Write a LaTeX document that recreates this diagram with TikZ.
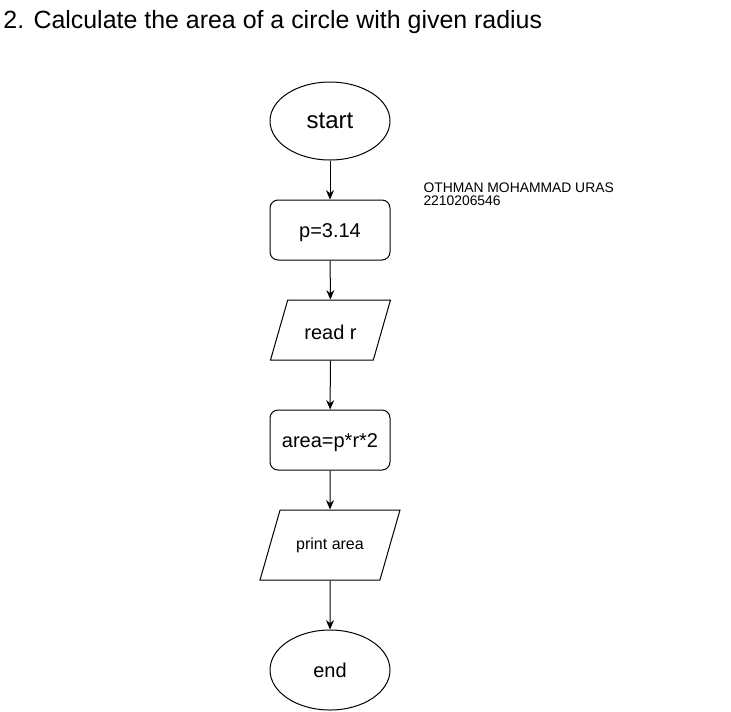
\documentclass[tikz,border=0pt]{standalone}
\usepackage{fontspec}
\setmainfont{Liberation Sans}
\usetikzlibrary{shapes.geometric,arrows.meta}

\begin{document}
\begin{tikzpicture}[x=0.75pt,y=-0.75pt,line width=0.75pt,
  term/.style={draw,ellipse,minimum width=90pt,inner sep=0pt},
  proc/.style={draw,rounded corners=6pt,minimum width=90pt,minimum height=45pt,inner sep=0pt,text height=11pt,text depth=0pt,font=\fontsize{15}{18}\selectfont},
  io/.style={draw,trapezium,trapezium left angle=74,trapezium right angle=106},
  flow/.style={-{Stealth[length=7pt,width=6pt]}}]
 \useasboundingbox (0,0) rectangle (731,711); %枠
 \node[anchor=base west,inner sep=0pt,font=\fontsize{18.7}{20}\selectfont] (title) at (3,28) {2. Calculate the area of a circle with given radius}; %題
 \node[anchor=base west,inner sep=0pt,font=\fontsize{10.4}{10}\selectfont] (name) at (423,192) {OTHMAN MOHAMMAD URAS}; %名前
 \node[anchor=base west,inner sep=0pt,font=\fontsize{10.4}{10}\selectfont] (id) at (423,205) {2210206546}; %番号

 \node[term,minimum height=58.5pt,font=\fontsize{18}{20}\selectfont] (start) at (330,121) {start};
 \node[proc] (pi) at (330,230) {p=3.14};
 \node[io,text height=14pt,text depth=0pt,inner xsep=12.5pt,inner ysep=15.5pt,font=\fontsize{15}{18}\selectfont] (read) at (330.5,330) {read r};
 \node[proc] (area) at (330,440) {area=p*r*2};
 \node[io,text height=9pt,text depth=2.5pt,inner xsep=12.1pt,inner ysep=20.5pt,font=\fontsize{12}{14}\selectfont] (print) at (330,545) {print area};
 \node[term,minimum height=60pt,font=\fontsize{15}{18}\selectfont] (end) at (330,670) {end};

 \draw[flow] (start)--(pi);
 \draw[flow] (pi)--(read);
 \draw[flow] (read)--(area);
 \draw[flow] (area)--(print);
 \draw[flow] (print)--(end);
\end{tikzpicture}
\end{document}
